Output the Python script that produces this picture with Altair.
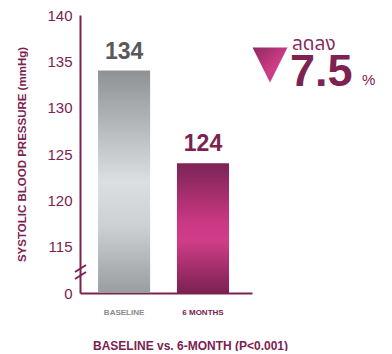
import altair as alt
import pandas as pd

categories = ["BASELINE", "6 MONTHS"]
values = [134, 124]
y_ticks = [110, 115, 120, 125, 130, 135, 140]
change_word = "ลดลง"
change_value = "7.5"
change_unit = "%"

MAG = "#7b2251"
FONT = "Liberation Sans"

df = pd.DataFrame({"cat": categories, "val": values})

x_enc = alt.X(
    "cat:N",
    sort=categories,
    scale=alt.Scale(paddingInner=0.34, paddingOuter=0.26, align=0.44),
    axis=alt.Axis(
        title="BASELINE vs. 6-MONTH (P<0.001)",
        titleFont=FONT, titleFontSize=12, titleFontWeight="bold", titleColor=MAG,
        titleX=110, titleY=52, titleBaseline="middle", titleAlign="center",
        labelFont=FONT, labelFontSize=8, labelFontWeight="bold",
        labelColor=alt.ExprRef(expr="datum.value == 'BASELINE' ? '#8a8b8d' : '#7b2251'"),
        labelPadding=15, labelAngle=0,
        domainColor=MAG, domainWidth=2, ticks=False, grid=False,
    ),
)

y_enc = alt.Y(
    "val:Q",
    scale=alt.Scale(domain=[110, 140], zero=False, nice=False),
    axis=alt.Axis(
        values=y_ticks,
        labelExpr="datum.value == 110 ? '0' : datum.value",
        title="SYSTOLIC BLOOD PRESSURE (mmHg)",
        titleFont=FONT, titleFontSize=11.5, titleFontWeight="bold", titleColor=MAG,
        titleAngle=-90, titleX=-58, titleY=139, titleAlign="center", titleBaseline="middle",
        labelFont=FONT, labelFontSize=15, labelColor=MAG, labelPadding=8, labelFlush=False,
        domainColor=MAG, domainWidth=2, ticks=False, grid=False,
    ),
)

gray_grad = alt.Gradient(
    gradient="linear", x1=0, x2=0, y1=0, y2=1,
    stops=[
        alt.GradientStop(color="#8f9294", offset=0),
        alt.GradientStop(color="#dcdfe2", offset=0.5),
        alt.GradientStop(color="#cdd0d3", offset=0.7),
        alt.GradientStop(color="#9a9d9f", offset=1),
    ],
)
mag_grad = alt.Gradient(
    gradient="linear", x1=0, x2=0, y1=0, y2=1,
    stops=[
        alt.GradientStop(color="#7c2455", offset=0),
        alt.GradientStop(color="#c93883", offset=0.45),
        alt.GradientStop(color="#d03d88", offset=0.6),
        alt.GradientStop(color="#7a2151", offset=1),
    ],
)

base = alt.Chart(df)

bar_gray = base.mark_bar(color=gray_grad).encode(
    x=x_enc, y=y_enc, y2=alt.datum(110)
).transform_filter(alt.datum.cat == categories[0])

bar_mag = base.mark_bar(color=mag_grad).encode(
    x=x_enc, y=y_enc, y2=alt.datum(110)
).transform_filter(alt.datum.cat == categories[1])

labels = base.mark_text(font=FONT, fontSize=23, fontWeight="bold", dy=-19, baseline="middle").encode(
    x=alt.X("cat:N", sort=categories),
    y="val:Q",
    text="val:Q",
    color=alt.Color("cat:N", scale=alt.Scale(domain=categories, range=["#58595b", MAG]), legend=None),
)

tri = alt.Chart(pd.DataFrame({"k": [0]})).mark_point(
    shape="M -1 -1 L 1 -1 L 0 1 Z", size=1225, filled=True, opacity=1,
    fill=alt.Gradient(
        gradient="linear", x1=0, x2=1, y1=0, y2=1,
        stops=[alt.GradientStop(color="#8a2a5e", offset=0),
               alt.GradientStop(color="#cf3d88", offset=0.6),
               alt.GradientStop(color="#b8357a", offset=1)],
    ),
    strokeWidth=0,
).encode(x=alt.value(190), y=alt.value(50))

word = alt.Chart(pd.DataFrame({"t": [change_word]})).mark_text(
    font="Noto Sans Thai", fontSize=19, color="#8b2a60", align="left", baseline="alphabetic"
).encode(text="t:N", x=alt.value(212), y=alt.value(35))

num = alt.Chart(pd.DataFrame({"t": [change_value]})).mark_text(
    font=FONT, fontSize=45, fontWeight="bold", color="#7e2252", align="left", baseline="alphabetic"
).encode(text="t:N", x=alt.value(210), y=alt.value(71))

unit = alt.Chart(pd.DataFrame({"t": [change_unit]})).mark_text(
    font=FONT, fontSize=15, color="#7e2252", align="left", baseline="alphabetic"
).encode(text="t:N", x=alt.value(282), y=alt.value(70))

brk1 = alt.Chart(pd.DataFrame({"k": [0]})).mark_rule(color=MAG, strokeWidth=2).encode(
    x=alt.value(-5), x2=alt.value(6), y=alt.value(257), y2=alt.value(250)
)
brk2 = alt.Chart(pd.DataFrame({"k": [0]})).mark_rule(color=MAG, strokeWidth=2).encode(
    x=alt.value(-5), x2=alt.value(6), y=alt.value(264), y2=alt.value(257)
)

chart = alt.layer(bar_gray, bar_mag, labels, tri, word, num, unit, brk1, brk2).properties(
    width=172, height=278,
    autosize=alt.AutoSizeParams(type="none"),
    padding={"left": 72, "top": 7, "right": 132, "bottom": 58},
).configure_view(stroke=None)

chart.save("out.html", embed_options={"renderer": "svg", "actions": False})
